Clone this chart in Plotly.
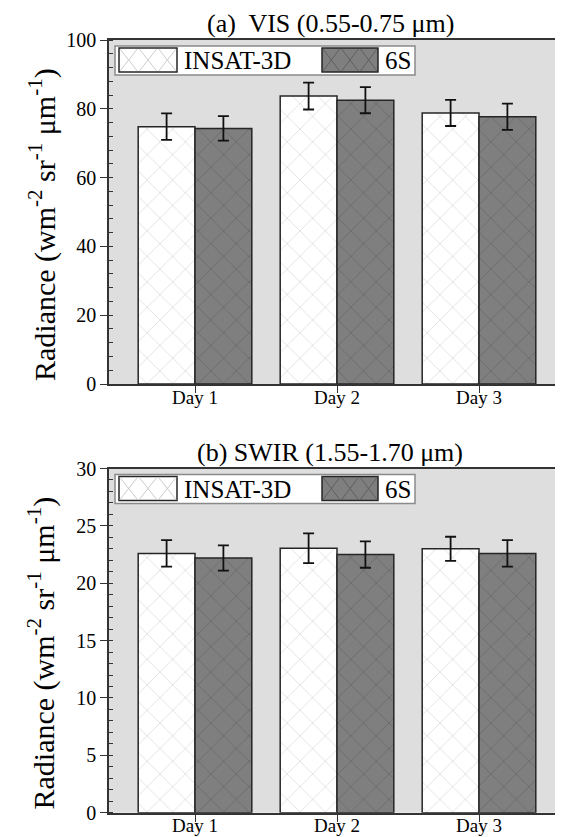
import plotly.graph_objects as go

# ---------------- data ----------------
days = ["Day 1", "Day 2", "Day 3"]
series_names = ["INSAT-3D", "6S"]

vis_insat = [74.8, 83.7, 78.8]
vis_insat_err = [3.85, 3.9, 3.8]
vis_6s = [74.3, 82.5, 77.7]
vis_6s_err = [3.55, 3.8, 3.8]

swir_insat = [22.6, 23.05, 23.0]
swir_insat_err = [1.15, 1.3, 1.05]
swir_6s = [22.2, 22.5, 22.6]
swir_6s_err = [1.1, 1.15, 1.15]

vis_ticks = [0, 20, 40, 60, 80, 100]
swir_ticks = [0, 5, 10, 15, 20, 25, 30]

title_a = "(a)  VIS (0.55-0.75 \u03bcm)"
title_b = "(b) SWIR (1.55-1.70 \u03bcm)"
ytitle = "Radiance (wm<sup>-2</sup> sr<sup>-1</sup> \u03bcm<sup>-1</sup>)"

# ---------------- layout constants (pixels, page coordinates) ----------------
OFF = 8                 # default page margin around the plot div
PAGE_W, PAGE_H = 563, 837
W, H = PAGE_W - OFF, PAGE_H - OFF
L = 109                 # left edge of plot area (page px)
A_TOP, A_BOT = 40, 384
B_TOP, B_BOT = 468.5, 812.7
FONT = "Liberation Serif"

WHITE_FILL = "#ffffff"
WHITE_HATCH = "#cccccc"
DARK_FILL = "#7f7f7f"
DARK_HATCH = "#5f5f5f"
EDGE = "#262626"
BG = "#dedede"


def bar(xv, yv, err, name, fill, hatch, xa, ya):
    return go.Bar(
        x=xv, y=yv, name=name, xaxis=xa, yaxis=ya, showlegend=False,
        marker=dict(color=fill, line=dict(color=EDGE, width=1.5),
                    pattern=dict(shape="x", fgcolor=hatch, bgcolor=fill,
                                 size=18, solidity=0.06)),
        error_y=dict(type="data", array=err, visible=True, color="#111111",
                     thickness=1.8, width=5.5),
    )


fig = go.Figure()
fig.add_trace(bar(days, vis_insat, vis_insat_err, series_names[0], WHITE_FILL, WHITE_HATCH, "x", "y"))
fig.add_trace(bar(days, vis_6s, vis_6s_err, series_names[1], DARK_FILL, DARK_HATCH, "x", "y"))
fig.add_trace(bar(days, swir_insat, swir_insat_err, series_names[0], WHITE_FILL, WHITE_HATCH, "x2", "y2"))
fig.add_trace(bar(days, swir_6s, swir_6s_err, series_names[1], DARK_FILL, DARK_HATCH, "x2", "y2"))

PL = L - OFF            # left margin inside the figure
PW = W - PL


def py(p):  # page pixel y -> paper
    return 1 - (p - OFF) / H


def px(p):  # page pixel x -> paper (plot area starts at L)
    return (p - L) / PW


xr = [(L - 195) / 142.0, (PAGE_W - 195) / 142.0]

xcommon = dict(range=xr, showline=True, linecolor="#333333", linewidth=1.6,
               mirror=True, ticks="outside", ticklen=7, tickwidth=1.4,
               tickcolor="#333333", showgrid=False, zeroline=False,
               ticklabelstandoff=-12,
               tickfont=dict(family=FONT, size=19, color="black"))
ycommon = dict(showline=True, linecolor="#333333", linewidth=1.6,
               ticks="outside", ticklen=7, tickwidth=1.4, tickcolor="#333333",
               showgrid=False, zeroline=False,
               tickfont=dict(family=FONT, size=20, color="black"))

fig.update_layout(
    width=W, height=H, template="none",
    font=dict(family=FONT, color="black"),
    margin=dict(l=PL, r=0, t=0, b=0),
    paper_bgcolor="white", plot_bgcolor=BG,
    barmode="group", bargap=0.2, bargroupgap=0,
    showlegend=False,
    xaxis=dict(domain=[0, 1], anchor="y", **xcommon),
    yaxis=dict(domain=[py(A_BOT), py(A_TOP)], anchor="x", range=[0, 100],
               tickvals=vis_ticks,
               minor=dict(ticks="inside", dtick=4, ticklen=4, tickwidth=1.2,
                          tickcolor="#333333", showgrid=False),
               **ycommon),
    xaxis2=dict(domain=[0, 1], anchor="y2", **xcommon),
    yaxis2=dict(domain=[py(B_BOT), py(B_TOP)], anchor="x2", range=[0, 30],
                tickvals=swir_ticks,
                minor=dict(ticks="inside", dtick=1, ticklen=4, tickwidth=1.2,
                           tickcolor="#333333", showgrid=False),
                **ycommon),
)

annotations = []
shapes = []
for top, title in [(A_TOP, title_a), (B_TOP, title_b)]:
    annotations.append(dict(text=title, xref="paper", yref="paper",
                            x=px(330), y=py(top - 1), xanchor="center",
                            yanchor="bottom", showarrow=False, borderpad=0,
                            font=dict(family=FONT, size=26, color="black")))
    annotations.append(dict(text=ytitle, xref="paper", yref="paper",
                            x=px(42), y=py(top + 185), xanchor="center",
                            yanchor="middle", textangle=-90, showarrow=False,
                            font=dict(family=FONT, size=30, color="black")))
    # legend box
    shapes.append(dict(type="rect", xref="paper", yref="paper",
                       x0=px(115), x1=px(415), y0=py(top + 35), y1=py(top + 6),
                       fillcolor="white", line=dict(color="#8a8a8a", width=1.5)))
    shapes.append(dict(type="rect", xref="paper", yref="paper",
                       x0=px(119), x1=px(177), y0=py(top + 32), y1=py(top + 8),
                       fillcolor=WHITE_FILL, line=dict(color=EDGE, width=1.5)))
    shapes.append(dict(type="rect", xref="paper", yref="paper",
                       x0=px(322), x1=px(378), y0=py(top + 32), y1=py(top + 8),
                       fillcolor=DARK_FILL, line=dict(color=EDGE, width=1.5)))
    for (sx0, sx1, col) in [(119, 177, WHITE_HATCH), (322, 378, DARK_HATCH)]:
        step = (sx1 - sx0) / 3.0
        for k in range(3):
            a0 = sx0 + k * step
            a1 = a0 + step
            shapes.append(dict(type="line", xref="paper", yref="paper",
                               x0=px(a0 + 1), y0=py(top + 9), x1=px(a1 - 1), y1=py(top + 31),
                               line=dict(color=col, width=1)))
            shapes.append(dict(type="line", xref="paper", yref="paper",
                               x0=px(a0 + 1), y0=py(top + 31), x1=px(a1 - 1), y1=py(top + 9),
                               line=dict(color=col, width=1)))
    annotations.append(dict(text=series_names[0], xref="paper", yref="paper",
                            x=px(182), y=py(top + 20.5), xanchor="left",
                            yanchor="middle", showarrow=False,
                            font=dict(family=FONT, size=25, color="black")))
    annotations.append(dict(text=series_names[1], xref="paper", yref="paper",
                            x=px(383), y=py(top + 20.5), xanchor="left",
                            yanchor="middle", showarrow=False,
                            font=dict(family=FONT, size=25, color="black")))

fig.update_layout(annotations=annotations, shapes=shapes)
fig.write_html("out.html")
